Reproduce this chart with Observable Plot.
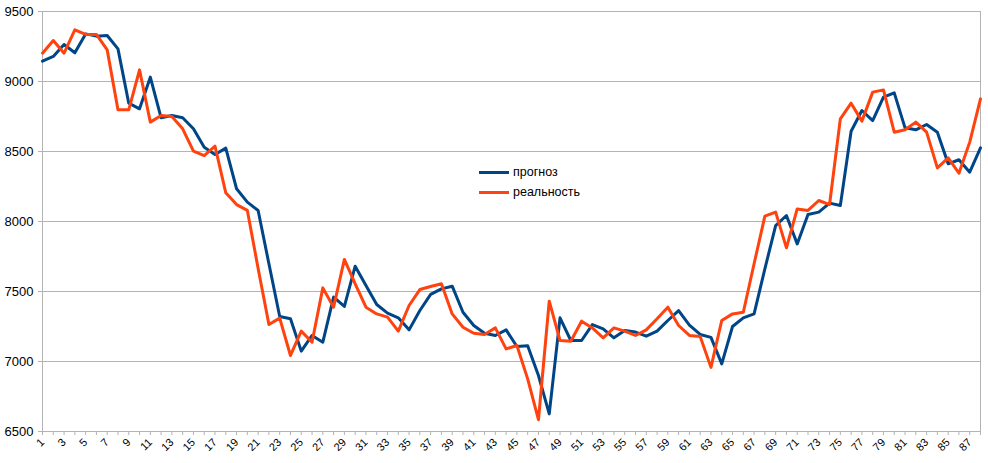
<!DOCTYPE html>
<html>
<head>
<meta charset="utf-8">
<script src="https://cdn.jsdelivr.net/npm/d3@7"></script>
<script src="https://cdn.jsdelivr.net/npm/@observablehq/plot@0.6"></script>
<style>
  html, body { margin: 0; padding: 0; background: #fff; }
  #wrap { position: relative; width: 988px; height: 463px; font-family: "Liberation Sans", Arial, sans-serif; }
  #legend { position: absolute; left: 479px; top: 162px; font-size: 12.5px; color: #000; }
  .item { display: flex; align-items: center; height: 20px; }
  .sw { width: 30px; height: 3px; margin-right: 4px; }
</style>
</head>
<body>
<div id="wrap"><div id="legend"></div></div>
<script>
const categories = d3.range(1, 89);
const xLabels = d3.range(1, 89, 2);
const yTicks = [6500, 7000, 7500, 8000, 8500, 9000, 9500];
const seriesNames = ["прогноз", "реальность"];
const seriesColors = ["#004586", "#ff420e"];

const forecast = [
  9145, 9179, 9264, 9205, 9340, 9324, 9329, 9233, 8845, 8805,
  9031, 8741, 8757, 8741, 8662, 8531, 8479, 8524, 8234, 8138,
  8079, 7698, 7321, 7305, 7074, 7186, 7138, 7460, 7393, 7681,
  7543, 7407, 7345, 7312, 7226, 7364, 7479, 7519, 7538, 7352,
  7257, 7202, 7186, 7226, 7107, 7112, 6900, 6626, 7312, 7150,
  7150, 7264, 7233, 7169, 7221, 7210, 7181, 7217, 7293, 7364,
  7260, 7193, 7172, 6983, 7250, 7312, 7340, 7662, 7971, 8043,
  7840, 8050, 8067, 8131, 8114, 8645, 8793, 8721, 8888, 8919,
  8669, 8655, 8693, 8638, 8412, 8441, 8352, 8526
];
const reality = [
  9202, 9293, 9202, 9369, 9336, 9336, 9226, 8798, 8798, 9083,
  8710, 8757, 8750, 8662, 8502, 8471, 8538, 8205, 8121, 8079,
  7665, 7264, 7310, 7043, 7217, 7138, 7526, 7388, 7729, 7555,
  7388, 7340, 7317, 7217, 7400, 7514, 7536, 7555, 7340, 7245,
  7202, 7193, 7240, 7090, 7114, 6876, 6584, 7431, 7150, 7145,
  7288, 7240, 7169, 7240, 7217, 7186, 7226, 7305, 7388, 7257,
  7186, 7179, 6958, 7293, 7340, 7352, 7698, 8038, 8067, 7812,
  8090, 8079, 8150, 8121, 8733, 8845, 8717, 8924, 8940, 8638,
  8655, 8710, 8638, 8383, 8455, 8345, 8567, 8876
];

const rows = [];
[forecast, reality].forEach((vals, s) => {
  categories.forEach((c, i) => rows.push({x: c, y: vals[i], series: seriesNames[s]}));
});

const grid = "#b3b3b3";
const chart = Plot.plot({
  width: 988,
  height: 463,
  marginLeft: 42,
  marginRight: 8,
  marginTop: 11,
  marginBottom: 32,
  x: {domain: [1, 88], label: null},
  y: {domain: [6500, 9500], label: null},
  color: {domain: seriesNames, range: seriesColors},
  style: {fontFamily: "'Liberation Sans', Arial, sans-serif", background: "#fff"},
  marks: [
    Plot.gridY(yTicks, {stroke: grid, strokeOpacity: 1}),
    Plot.ruleX([88], {stroke: grid}),
    Plot.ruleX([1], {stroke: grid}),
    Plot.ruleY([6500], {stroke: grid}),
    Plot.axisY(yTicks, {tickSize: 4, tickPadding: 5, fontSize: 13, stroke: grid, fill: "#000", tickFormat: d => String(d), label: null}),
    Plot.axisX(categories, {tickSize: 4, tickFormat: () => "", stroke: grid, label: null}),
    Plot.axisX(xLabels, {tickSize: 0, tickRotate: -45, tickPadding: 9, fontSize: 11, fill: "#000", tickFormat: d => String(d), label: null}),
    Plot.line(rows, {x: "x", y: "y", z: "series", stroke: "series", strokeWidth: 3, strokeLinejoin: "round"})
  ]
});
document.getElementById("wrap").prepend(chart);

const legend = document.getElementById("legend");
seriesNames.forEach((n, i) => {
  const it = document.createElement("div");
  it.className = "item";
  const sw = document.createElement("div");
  sw.className = "sw";
  sw.style.background = seriesColors[i];
  const t = document.createElement("span");
  t.textContent = n;
  it.appendChild(sw);
  it.appendChild(t);
  legend.appendChild(it);
});
</script>
</body>
</html>
